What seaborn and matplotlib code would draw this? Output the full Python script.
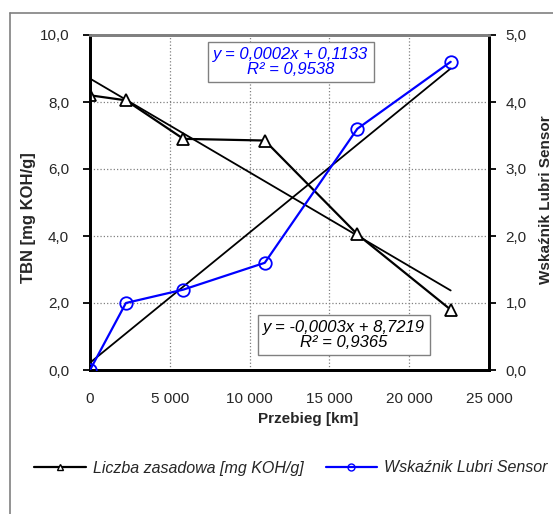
import numpy as np
import matplotlib
matplotlib.use("Agg")
import matplotlib.pyplot as plt
from matplotlib.lines import Line2D
from matplotlib.ticker import FuncFormatter, MultipleLocator
import seaborn as sns

# data
przebieg = [0, 2250, 5850, 10950, 16750, 22600]
tbn = [8.2, 8.05, 6.9, 6.85, 4.05, 1.8]
lubri = [0.0, 1.0, 1.2, 1.6, 3.6, 4.6]

tbn_label = "Liczba zasadowa [mg KOH/g]"
lubri_label = "Wskaźnik Lubri Sensor"
tbn_eq = "y = -0,0003x + 8,7219\nR² = 0,9365"
lubri_eq = "y = 0,0002x + 0,1133\nR² = 0,9538"

sns.set_style("white")
plt.rcParams["font.family"] = ["Liberation Sans", "DejaVu Sans"]

fig = plt.figure(figsize=(5.53, 5.14), dpi=100)
ax = fig.add_axes([90 / 553, 1 - 370 / 514, 399 / 553, 335 / 514])
ax2 = ax.twinx()

# data lines
sns.lineplot(x=przebieg, y=tbn, ax=ax, color="black", lw=1.6, marker="^",
             markersize=8, markerfacecolor="white", markeredgecolor="black",
             markeredgewidth=1.3, zorder=3)
sns.lineplot(x=przebieg, y=lubri, ax=ax2, color="#0000ff", lw=1.6, marker="o",
             markersize=9, markerfacecolor="none", markeredgecolor="#0000ff",
             markeredgewidth=1.3, zorder=3)

# linear trend lines
xs = np.array([przebieg[0], przebieg[-1]])
a1, b1 = np.polyfit(przebieg, tbn, 1)
a2, b2 = np.polyfit(przebieg, lubri, 1)
ax.plot(xs, a1 * xs + b1, color="black", lw=1.3, zorder=2)
ax2.plot(xs, a2 * xs + b2, color="black", lw=1.3, zorder=2)

ax.set_xlim(0, 25000)
ax.set_ylim(0, 10)
ax2.set_ylim(0, 5)
ax.xaxis.set_major_locator(MultipleLocator(5000))
ax.yaxis.set_major_locator(MultipleLocator(2))
ax2.yaxis.set_major_locator(MultipleLocator(1))

comma = FuncFormatter(lambda v, p: f"{v:.1f}".replace(".", ","))
thousands = FuncFormatter(lambda v, p: f"{int(v):,}".replace(",", " "))
ax.yaxis.set_major_formatter(comma)
ax2.yaxis.set_major_formatter(comma)
ax.xaxis.set_major_formatter(thousands)

ax.grid(True, color="#808080", linestyle=":", lw=0.9)
ax.tick_params(axis="x", length=0, pad=16, labelsize=11)
ax.tick_params(axis="y", left=True, length=5, width=1.3, color="black", labelsize=11, pad=10)
ax2.tick_params(axis="y", right=True, length=5, width=1.3, color="black", labelsize=11, pad=7)

for a in (ax, ax2):
    for side in ("left", "right", "bottom"):
        a.spines[side].set_color("black")
        a.spines[side].set_linewidth(2)
    a.spines["top"].set_color("#808080")
    a.spines["top"].set_linewidth(2)

ax.set_xlabel("Przebieg [km]", fontsize=11, fontweight="bold")
ax.set_ylabel("TBN [mg KOH/g]", fontsize=12, fontweight="bold")
ax2.set_ylabel(lubri_label, fontsize=11, fontweight="bold")
ax.xaxis.set_label_coords(0.546, -0.146)
ax.yaxis.set_label_coords(-0.155, 0.454)
ax2.yaxis.set_label_coords(1.143, 0.507)
ax.xaxis.label.set_va("center")
ax.yaxis.label.set_va("center")
ax2.yaxis.label.set_va("center")

box = dict(boxstyle="square,pad=0.3", facecolor="white", edgecolor="#808080", lw=1)
ax.text((291 - 90) / 399, (370 - 62) / 335, lubri_eq, transform=ax.transAxes,
        ha="center", va="center", fontsize=12, style="italic", color="#0000ff",
        bbox=box, zorder=5, linespacing=1.0)
ax.text((344 - 90) / 399, (370 - 335) / 335, tbn_eq, transform=ax.transAxes,
        ha="center", va="center", fontsize=12, style="italic", color="black",
        bbox=box, zorder=5, linespacing=1.0)

handles = [
    Line2D([], [], color="black", lw=1.6, marker="^", markersize=5,
           markerfacecolor="white", markeredgecolor="black"),
    Line2D([], [], color="#0000ff", lw=1.6, marker="o", markersize=5,
           markerfacecolor="none", markeredgecolor="#0000ff"),
]
fig.legend(handles, [tbn_label, lubri_label], loc="center",
           bbox_to_anchor=(291 / 553, 1 - 468 / 514), ncol=2, frameon=False,
           prop={"size": 11.5, "style": "italic"}, handlelength=3.2,
           handletextpad=0.45, columnspacing=1.4)

# chart area border
fig.add_artist(Line2D([10 / 553, 10 / 553], [0, 1 - 13 / 514], color="#808080", lw=1.2))
fig.add_artist(Line2D([10 / 553, 1], [1 - 13 / 514, 1 - 13 / 514], color="#808080", lw=1.2))

fig.savefig("out.png", dpi=100)
